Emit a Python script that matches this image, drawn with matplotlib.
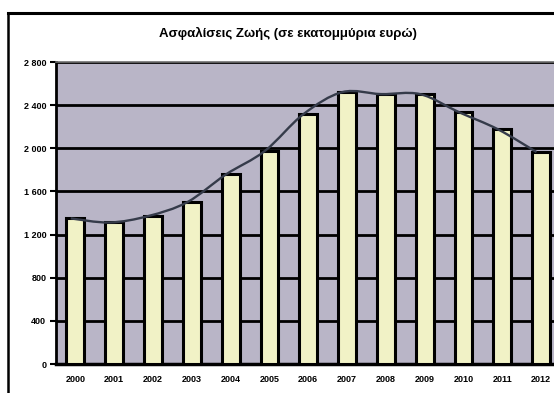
import matplotlib.pyplot as plt
from matplotlib.path import Path
from matplotlib.patches import PathPatch
from matplotlib.lines import Line2D

plt.rcParams['font.family'] = ['Liberation Sans', 'DejaVu Sans']

# life insurance premiums, million euro
years = ['2000', '2001', '2002', '2003', '2004', '2005', '2006',
         '2007', '2008', '2009', '2010', '2011', '2012']
values = [1350, 1312, 1372, 1500, 1758, 1975, 2318,
          2521, 2502, 2502, 2335, 2177, 1965]
yticks = [0, 400, 800, 1200, 1600, 2000, 2400, 2800]
ylabels = ['0', '400', '800', '1 200', '1 600', '2 000', '2 400', '2 800']
title = 'Ασφαλίσεις Ζωής (σε εκατομμύρια ευρώ)'

fig = plt.figure(figsize=(5.54, 3.93), dpi=100)
fig.patch.set_facecolor('white')

# outer chart frame (top and left edges only show)
fig.add_artist(Line2D([8 / 554, 8 / 554], [-0.05, 1 - 13 / 393],
                      transform=fig.transFigure, color='black', lw=1.8))
fig.add_artist(Line2D([8 / 554, 1.05], [1 - 13 / 393, 1 - 13 / 393],
                      transform=fig.transFigure, color='black', lw=2.2))

fig.text(288 / 554, 1 - 33 / 393, title, ha='center', va='center',
         fontsize=9.5, fontweight='bold')

ax = fig.add_axes([56 / 554, 29 / 393, 504.6 / 554, 302 / 393])
ax.set_facecolor('#b9b5c7')

x = list(range(len(years)))
ax.bar(x, values, width=0.46, color='#f1f2c6', edgecolor='black',
       linewidth=2.2, zorder=3)

# smoothed trend line through the same values (cubic Bezier segments)
shift = -0.12
pts = [(xi + shift, v) for xi, v in zip(x, values)]
verts = [pts[0]]
codes = [Path.MOVETO]
n = len(pts)
for i in range(n - 1):
    p0 = pts[max(i - 1, 0)]
    p1 = pts[i]
    p2 = pts[i + 1]
    p3 = pts[min(i + 2, n - 1)]
    c1 = (p1[0] + (p2[0] - p0[0]) / 6, p1[1] + (p2[1] - p0[1]) / 6)
    c2 = (p2[0] - (p3[0] - p1[0]) / 6, p2[1] - (p3[1] - p1[1]) / 6)
    verts += [c1, c2, p2]
    codes += [Path.CURVE4] * 3
ax.add_patch(PathPatch(Path(verts, codes), facecolor='none',
                       edgecolor='#353b4a', lw=1.7, zorder=4))

ax.set_xlim(-0.5, 12.5)
ax.set_ylim(0, 2800)
ax.set_yticks(yticks)
ax.set_yticklabels(ylabels)
ax.set_xticks(x)
ax.set_xticklabels(years)
ax.yaxis.grid(True, color='black', lw=2.0, zorder=1)
ax.set_axisbelow(True)

ax.tick_params(axis='y', length=4, width=1.5, pad=3, labelsize=6.5)
ax.tick_params(axis='x', length=0, pad=8, labelsize=6.5)
for lab in ax.get_xticklabels() + ax.get_yticklabels():
    lab.set_fontweight('bold')

ax.spines['left'].set_linewidth(2.0)
ax.spines['bottom'].set_linewidth(2.5)
ax.spines['top'].set_color('#707070')
ax.spines['top'].set_linewidth(1.2)
ax.spines['right'].set_visible(False)

fig.savefig('out.png', dpi=100)
